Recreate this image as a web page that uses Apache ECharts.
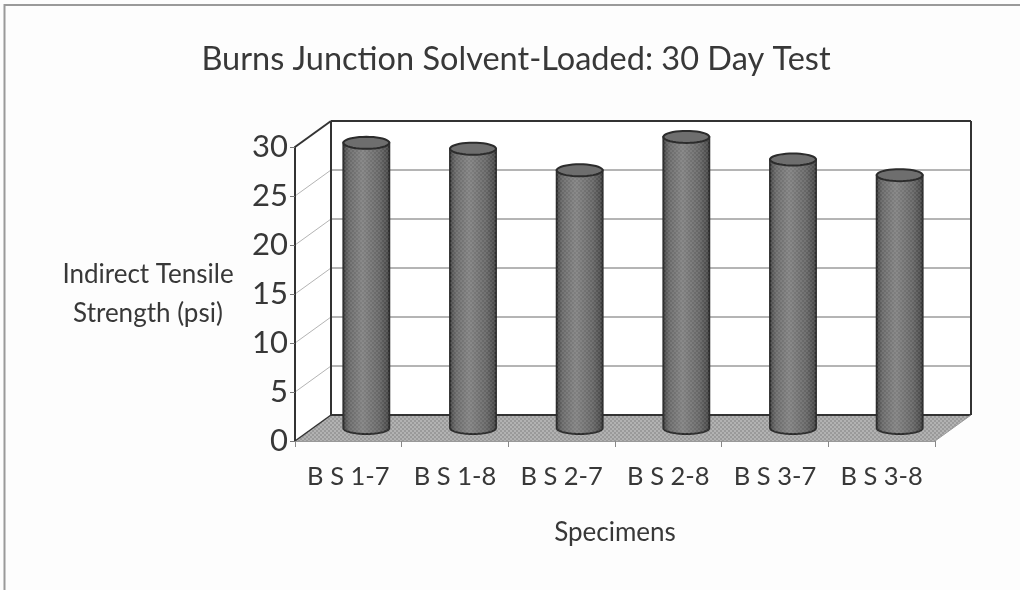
<!DOCTYPE html>
<html>
<head>
<meta charset="utf-8">
<style>html,body{margin:0;padding:0;background:#fdfdfd}#c{width:1020px;height:590px}</style>
<script src="https://cdn.jsdelivr.net/npm/echarts@6/dist/echarts.min.js"></script>
</head>
<body>
<div id="c"></div>
<script>
const categories = ['B S 1-7', 'B S 1-8', 'B S 2-7', 'B S 2-8', 'B S 3-7', 'B S 3-8'];
const strengthPsi = [29.1, 28.5, 26.3, 29.7, 27.4, 25.8];
const yTicks = [0, 5, 10, 15, 20, 25, 30];

const FONT = '"Lato", "Open Sans", sans-serif';
const INK = '#383838';
const DX = 36, DY = -26;           // depth of the 3D box in pixels

function dots(bg, fg, alpha) {
  const c = document.createElement('canvas');
  c.width = c.height = 4;
  const g = c.getContext('2d');
  if (bg) { g.fillStyle = bg; g.fillRect(0, 0, 4, 4); }
  g.globalAlpha = alpha;
  g.fillStyle = fg;
  g.fillRect(0, 0, 2, 2);
  g.fillRect(2, 2, 2, 2);
  return { image: c, repeat: 'repeat' };
}
const floorFill = dots('#9a9a9a', '#b2b2b2', 1);
const bodyDots = dots(null, '#ffffff', 0.09);

function ellipsePts(cx, cy, rx, ry, from, to) {
  const pts = [], n = 40;
  for (let i = 0; i <= n; i++) {
    const a = from + (to - from) * i / n;
    pts.push([cx + rx * Math.cos(a), cy + ry * Math.sin(a)]);
  }
  return pts;
}

function renderBox(params, api) {
  const left = params.coordSys.x, right = left + params.coordSys.width;
  const top = params.coordSys.y, bottom = top + params.coordSys.height;
  const children = [
    { type: 'polygon', shape: { points: [[left, bottom], [left + DX, bottom + DY], [left + DX, top + DY], [left, top]] },
      style: { fill: '#ffffff' } },
    { type: 'rect', shape: { x: left + DX, y: top + DY, width: right - left, height: bottom - top },
      style: { fill: '#ffffff' } }
  ];
  yTicks.slice(1, -1).forEach(v => {
    const y = api.coord([0, v])[1];
    children.push({ type: 'line', shape: { x1: left, y1: y, x2: left + DX, y2: y + DY },
      style: { stroke: '#b4b4b4', lineWidth: 1 } });
    children.push({ type: 'line', shape: { x1: left + DX, y1: y + DY, x2: right + DX, y2: y + DY },
      style: { stroke: '#6a6a6a', lineWidth: 1 } });
  });
  children.push(
    { type: 'polygon', shape: { points: [[left, bottom], [left + DX, bottom + DY], [right + DX, bottom + DY], [right, bottom]] },
      style: { fill: floorFill, stroke: null } },
    { type: 'line', shape: { x1: left, y1: bottom, x2: left + DX, y2: bottom + DY }, style: { stroke: '#333333', lineWidth: 1.5 } },
    { type: 'line', shape: { x1: left + DX, y1: bottom + DY, x2: right + DX, y2: bottom + DY }, style: { stroke: '#333333', lineWidth: 2 } },
    { type: 'line', shape: { x1: right, y1: bottom, x2: right + DX, y2: bottom + DY }, style: { stroke: '#999999', lineWidth: 1 } },
    { type: 'line', shape: { x1: left, y1: top, x2: left + DX, y2: top + DY }, style: { stroke: '#333333', lineWidth: 2 } },
    { type: 'line', shape: { x1: left + DX, y1: top + DY, x2: left + DX, y2: bottom + DY }, style: { stroke: '#333333', lineWidth: 2 } },
    { type: 'line', shape: { x1: left + DX, y1: top + DY, x2: right + DX, y2: top + DY }, style: { stroke: '#333333', lineWidth: 2 } },
    { type: 'line', shape: { x1: right + DX, y1: top + DY, x2: right + DX, y2: bottom + DY }, style: { stroke: '#333333', lineWidth: 2 } }
  );
  return { type: 'group', children };
}

function renderCylinder(params, api) {
  const i = api.value(0), v = api.value(1);
  const t = api.coord([i, v]), b = api.coord([i, 0]);
  const cx = t[0] + DX / 2;
  const yTop = t[1] + DY / 2, yBot = b[1] + DY / 2;
  const rx = api.size([1, 0])[0] * 0.215, ry = 6;
  const outline = [[cx - rx, yTop]].concat(ellipsePts(cx, yBot, rx, ry, Math.PI, 0), [[cx + rx, yTop]]);
  const side = new echarts.graphic.LinearGradient(0, 0, 1, 0, [
    { offset: 0, color: '#3e3e3e' },
    { offset: 0.14, color: '#686868' },
    { offset: 0.42, color: '#808080' },
    { offset: 0.78, color: '#646464' },
    { offset: 1, color: '#404040' }
  ]);
  return {
    type: 'group',
    children: [
      { type: 'polygon', shape: { points: outline }, style: { fill: side, stroke: '#2c2c2c', lineWidth: 2 } },
      { type: 'polygon', shape: { points: outline }, style: { fill: bodyDots } },
      { type: 'polygon', shape: { points: ellipsePts(cx, yTop, rx, ry, 0, Math.PI * 2) },
        style: { fill: '#6e6e6e', stroke: '#2c2c2c', lineWidth: 2 } }
    ]
  };
}

const chart = echarts.init(document.getElementById('c'), null, { renderer: 'canvas' });
chart.setOption({
  animation: false,
  backgroundColor: '#fdfdfd',
  title: {
    text: 'Burns Junction Solvent-Loaded: 30 Day Test',
    left: 511, top: 38, textAlign: 'center',
    textStyle: { fontFamily: FONT, fontSize: 32.5, fontWeight: 'normal', color: INK }
  },
  graphic: [{
    type: 'rect', silent: true, z: -1,
    shape: { x: 4.5, y: 5, width: 1100, height: 700 },
    style: { fill: 'transparent', stroke: '#9a9a9a', lineWidth: 2 }
  }],
  grid: { left: 295, top: 147, width: 640, height: 294, containLabel: false },
  xAxis: {
    type: 'category', data: categories, z: 6,
    name: 'Specimens', nameLocation: 'middle', nameGap: 79,
    nameTextStyle: { fontFamily: FONT, fontSize: 26, color: INK },
    axisLine: { lineStyle: { color: '#999999', width: 1 } },
    axisTick: { show: true, alignWithLabel: false, length: 6, lineStyle: { color: '#888888' } },
    axisLabel: { fontFamily: FONT, fontSize: 25.5, color: INK, margin: 23, interval: 0 },
    splitLine: { show: false }
  },
  yAxis: {
    type: 'value', min: 0, max: 30, interval: 5, z: 6,
    name: 'Indirect Tensile\nStrength (psi)', nameLocation: 'middle', nameGap: 147, nameRotate: 0,
    nameTextStyle: { fontFamily: FONT, fontSize: 26, color: INK, lineHeight: 39, align: 'center', verticalAlign: 'middle', padding: [12, 0, 0, 0] },
    axisLine: { show: true, lineStyle: { color: '#333333', width: 2 } },
    axisTick: { show: true, length: 5, lineStyle: { color: '#777777' } },
    axisLabel: { fontFamily: FONT, fontSize: 31, color: INK, margin: 7, padding: [8, 0, 0, 0] },
    splitLine: { show: false }
  },
  series: [
    { type: 'custom', name: 'box', renderItem: renderBox, data: [[0, 0]], clip: false, silent: true, z: 1 },
    { type: 'custom', name: 'Indirect Tensile Strength (psi)', renderItem: renderCylinder,
      data: strengthPsi.map((v, i) => [i, v]), encode: { x: 0, y: 1 }, clip: false, z: 3 }
  ]
});
</script>
</body>
</html>
